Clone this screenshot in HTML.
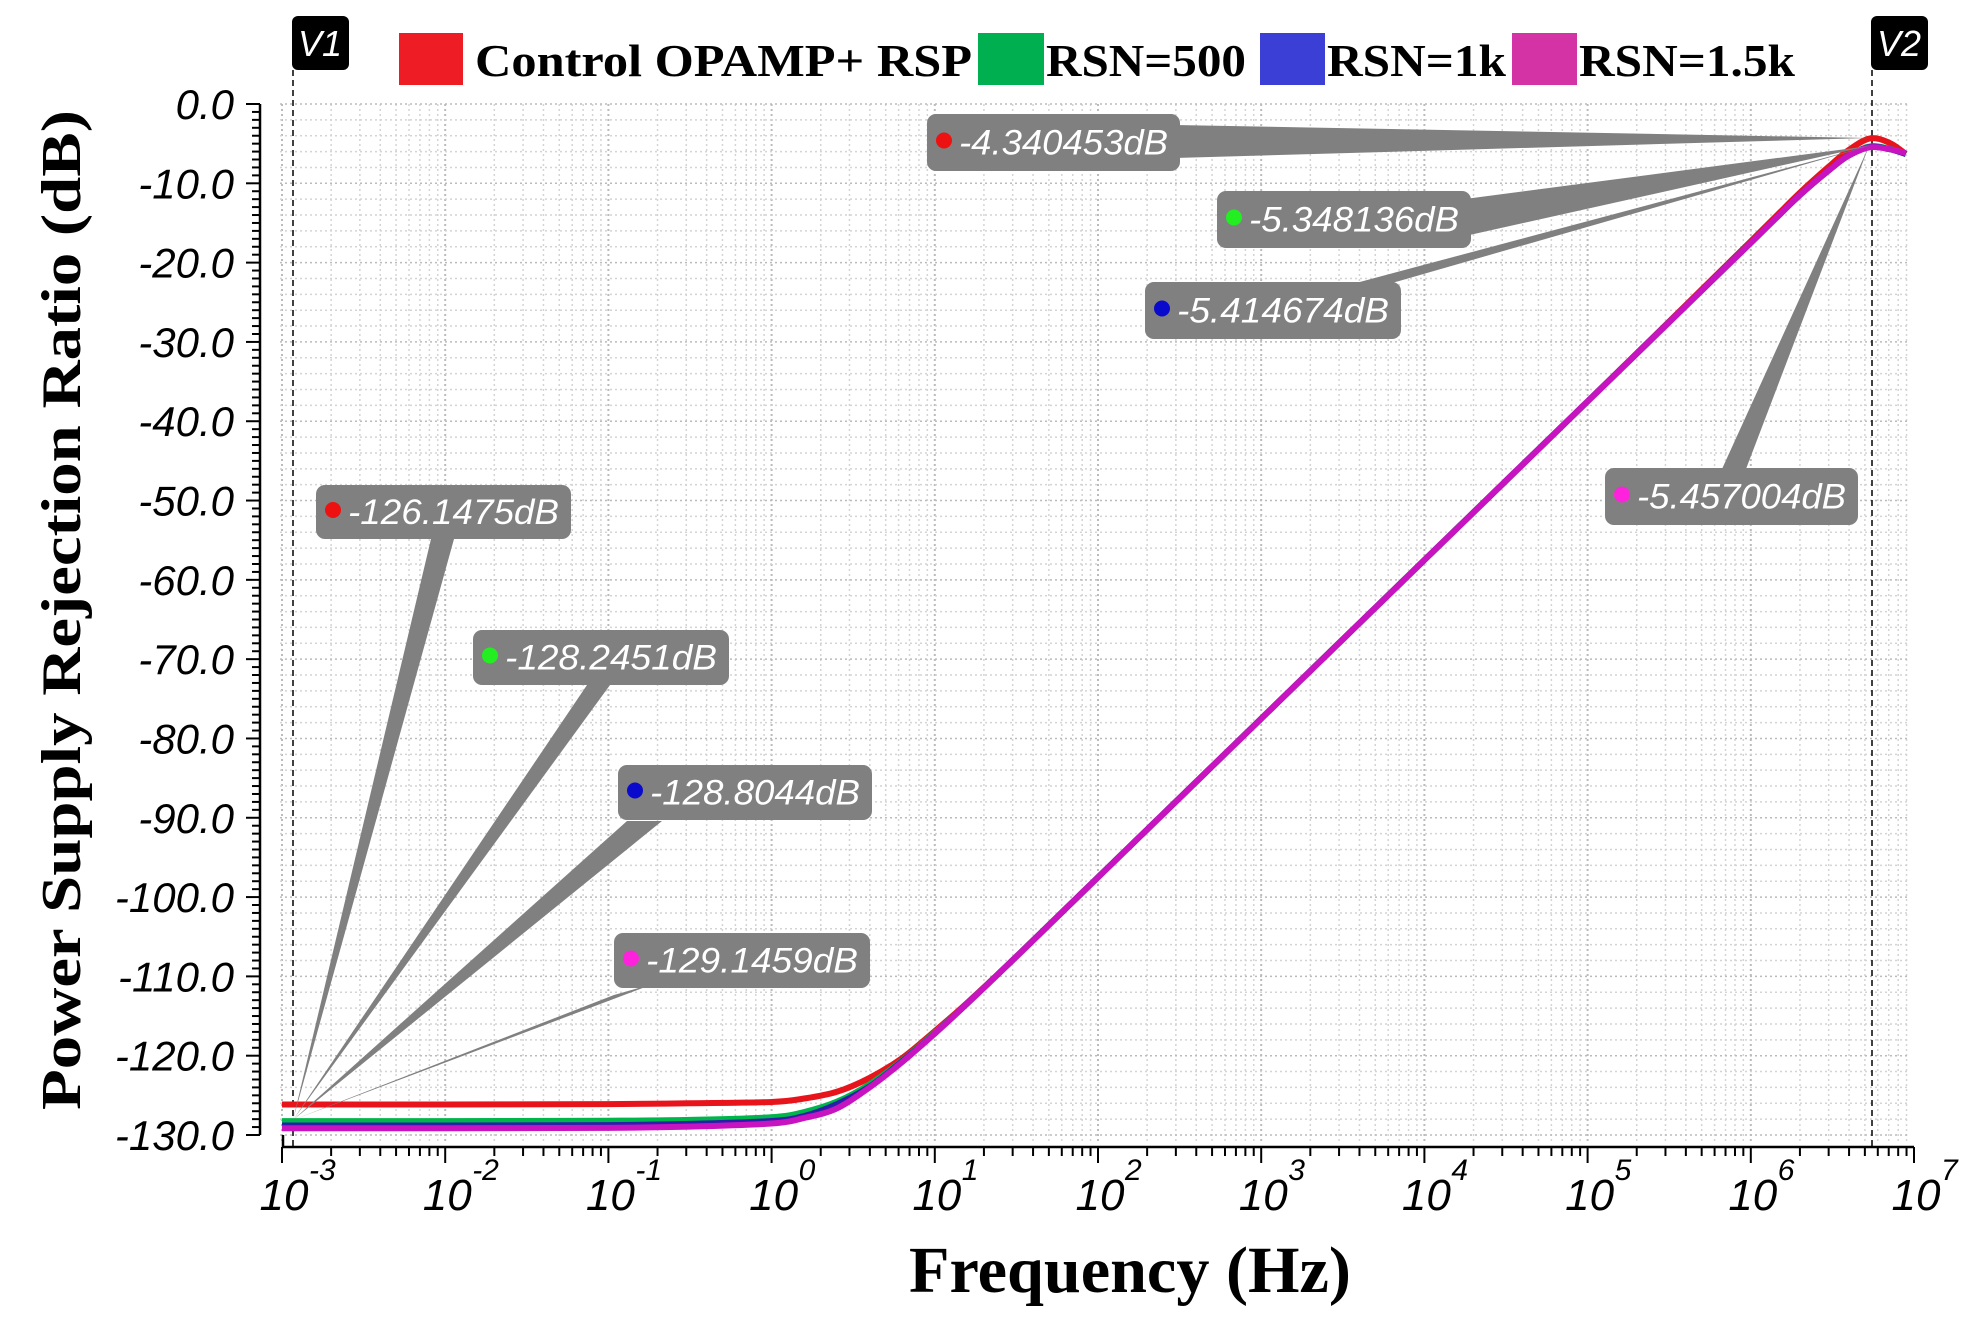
<!DOCTYPE html>
<html><head><meta charset="utf-8"><style>
html,body{margin:0;padding:0;background:#fff;}
svg{display:block;}
</style></head><body>
<svg id="chart" width="1974" height="1331" viewBox="0 0 1974 1331" xmlns="http://www.w3.org/2000/svg">
<g id="grid"></g>
<g id="axes"></g>
<g id="series"></g>
<g id="markers"></g>
<g id="legend"></g>
</svg>
<script>
const logFreq = [-3,-2,-1,-0.5,0,0.2,0.4,0.6,0.8,1,1.2,1.5,2,3,4,5,6,6.3,6.5,6.6,6.73,6.85,6.95];
const redVals = [-126.15,-126.15,-126.1,-126.0,-125.84,-125.4,-124.55,-122.8,-120.3,-116.9,-113.3,-107.5,-97.5,-77.5,-57.5,-37.5,-17.3,-11.2,-7.5,-5.8,-4.34,-4.9,-6.3];
const greenVals = [-128.25,-128.25,-128.2,-128.1,-127.76,-127.1,-125.8,-123.6,-120.6,-117.1,-113.4,-107.5,-97.5,-77.5,-57.5,-37.5,-17.5,-11.5,-8.0,-6.5,-5.35,-5.65,-6.3];
const blueVals = [-128.8,-128.8,-128.75,-128.6,-128.24,-127.6,-126.1,-123.9,-120.7,-117.2,-113.4,-107.5,-97.5,-77.5,-57.5,-37.5,-17.5,-11.5,-8.0,-6.5,-5.41,-5.7,-6.3];
const magentaVals = [-129.15,-129.15,-129.1,-128.95,-128.55,-127.85,-126.65,-124.0,-120.8,-117.2,-113.4,-107.5,-97.5,-77.5,-57.5,-37.5,-17.5,-11.5,-8.0,-6.5,-5.46,-5.7,-6.2];
const seriesNames = ["Control OPAMP+ RSP","RSN=500","RSN=1k","RSN=1.5k"];
const yTickVals = [0,-10,-20,-30,-40,-50,-60,-70,-80,-90,-100,-110,-120,-130];
const xTickExps = [-3,-2,-1,0,1,2,3,4,5,6,7];
const cursorLogs = [-2.93, 6.73];
const cursorLabels = ["V1","V2"];
const annotLeftText = ["-126.1475dB","-128.2451dB","-128.8044dB","-129.1459dB"];
const annotRightText = ["-4.340453dB","-5.348136dB","-5.414674dB","-5.457004dB"];

const NS="http://www.w3.org/2000/svg";
const X0=282, X1=1914, Y0=104, Y130=1135;
function xs(l){return X0+(l+3)*(X1-X0)/10;}
function ys(v){return Y0+(-v)*(Y130-Y0)/130;}
function mk(tag,attrs,parent){const e=document.createElementNS(NS,tag);for(const k in attrs)e.setAttribute(k,attrs[k]);parent.appendChild(e);return e;}
const grid=document.getElementById('grid'),axes=document.getElementById('axes'),series=document.getElementById('series'),markers=document.getElementById('markers'),legend=document.getElementById('legend');

for(let d=-3;d<7;d++){for(let m=1;m<10;m++){const x=xs(d+Math.log10(m));
 const g=mk('line',{x1:x,y1:Y0,x2:x,y2:1142,stroke:m===1?'#bbb':'#d4d4d4','stroke-width':m===1?2:1.5,'stroke-dasharray':'2,3'},grid);
 }}
for(let v=0;v>=-130;v-=2){const y=ys(v);
 const g=mk('line',{x1:280,y1:y,x2:1910,y2:y,stroke:v%10===0?'#bbb':'#d4d4d4','stroke-width':1.5,'stroke-dasharray':'2,3'},grid);
 }

let e=mk('line',{x1:260,y1:Y0,x2:260,y2:Y130,stroke:'#000','stroke-width':2.5},axes);

for(let v=0;v>=-130;v--){const y=ys(v);mk('line',{x1:v%10===0?246:252,y1:y,x2:260,y2:y,stroke:'#000','stroke-width':2},axes);}
yTickVals.forEach(v=>{const t=mk('text',{x:234,y:ys(v)+15,'text-anchor':'end','font-family':'Liberation Sans, sans-serif','font-style':'italic','font-size':42},axes);
 t.textContent=v.toFixed(1);});
e=mk('line',{x1:283,y1:1147,x2:X1,y2:1147,stroke:'#000','stroke-width':2.5},axes);

mk('line',{x1:283,y1:1135,x2:283,y2:1147,stroke:'#000','stroke-width':2.5},axes);
for(let d=-3;d<=7;d++){for(let m=1;m<10;m++){if(d===7&&m>1)break;const x=xs(d+Math.log10(m));mk('line',{x1:x,y1:1147,x2:x,y2:m===1?1163:1156,stroke:'#000','stroke-width':2},axes);}}
xTickExps.forEach(p=>{const x=xs(p);
 const t=mk('text',{x:x+2,y:1210,'text-anchor':'middle','font-family':'Liberation Sans, sans-serif','font-style':'italic','font-size':44},axes);
 t.textContent='10';
 const s=mk('text',{x:x+27,y:1180,'font-family':'Liberation Sans, sans-serif','font-style':'italic','font-size':30},axes);
 s.textContent=String(p);});
e=mk('text',{x:0,y:0,transform:'translate(80,610) rotate(-90)','text-anchor':'middle','font-family':'Liberation Serif, serif','font-weight':'bold','font-size':56,textLength:1000,lengthAdjust:'spacingAndGlyphs'},axes);
e.textContent='Power Supply Rejection Ratio (dB)';
e=mk('text',{x:909,y:1292,'font-family':'Liberation Serif, serif','font-weight':'bold','font-size':66,textLength:442,lengthAdjust:'spacingAndGlyphs'},axes);
e.textContent='Frequency (Hz)';

cursorLogs.forEach((l,i)=>{const x=i===0?293:1872;
 const ln=mk('line',{x1:x,y1:70,x2:x,y2:1147,stroke:'#000','stroke-width':1.5,'stroke-dasharray':'6,4'},axes);
 
 const b=mk('rect',{x:x-1,y:16,width:57,height:54,rx:6,fill:'#000'},axes);
 
 const t=mk('text',{x:x+27,y:56,'text-anchor':'middle','font-family':'Liberation Sans, sans-serif','font-style':'italic','font-size':36,fill:'#fff'},axes);
 t.textContent=cursorLabels[i];});

const allVals=[redVals,greenVals,blueVals,magentaVals];
const lineColors=['#e8141c','#00b54a','#2a1fa8','#c814c0'];
function pathFor(vals){const p=logFreq.map((l,i)=>[xs(l),ys(vals[i])]);let d='M'+p[0][0]+','+p[0][1];
 for(let i=0;i<p.length-1;i++){const a=p[Math.max(0,i-1)],b=p[i],c=p[i+1],n=p[Math.min(p.length-1,i+2)];
  const c1=[b[0]+(c[0]-a[0])/6,b[1]+(c[1]-a[1])/6],c2=[c[0]-(n[0]-b[0])/6,c[1]-(n[1]-b[1])/6];
  d+=' C'+c1[0]+','+c1[1]+' '+c2[0]+','+c2[1]+' '+c[0]+','+c[1];}return d;}
allVals.forEach((v,i)=>{const p=mk('path',{d:pathFor(v),fill:'none',stroke:lineColors[i],'stroke-width':6,'stroke-linejoin':'round'},series);
 });

const dotColors=['#ee1111','#22ee22','#0a0acc','#ff22dd'];
const leftBoxes=[[316,485,571,539],[473,630,729,685],[618,765,872,820],[614,933,870,988]];
const leftBases=[[431,539,454,539],[587,685,610,685],[627,821,662,821],[614,995,656,983]];
const rightBoxes=[[927,114,1180,171],[1217,191,1471,248],[1145,282,1401,339],[1605,468,1858,525]];
const rightBases=[[1175,125,1175,158],[1465,199,1465,236],[1356,283,1392,283],[1722,469,1746,469]];
function annot(box,base,tip,txt,col,name){
 const w=mk('polygon',{points:base[0]+','+base[1]+' '+base[2]+','+base[3]+' '+tip[0]+','+tip[1],fill:'#808080'},markers);
 
 const r=mk('rect',{x:box[0],y:box[1],width:box[2]-box[0],height:box[3]-box[1],rx:9,fill:'#808080'},markers);
 
 const cy=(box[1]+box[3])/2;
 const c=mk('circle',{cx:box[0]+17,cy:cy-2,r:8,fill:col},markers);
 
 const t=mk('text',{x:box[0]+32,y:cy+12,'font-family':'Liberation Sans, sans-serif','font-style':'italic','font-size':35,fill:'#fff',textLength:box[2]-box[0]-44,lengthAdjust:'spacingAndGlyphs'},markers);
 t.textContent=txt;}
annotLeftText.forEach((s,i)=>annot(leftBoxes[i],leftBases[i],[293,1120],s,dotColors[i],'v1-readout-'+i));
annotRightText.forEach((s,i)=>annot(rightBoxes[i],rightBases[i],[1869,i===0?138:146],s,dotColors[i],'v2-readout-'+i));

const legSq=[[399,463],[978,1044],[1260,1325],[1512,1577]];
const legTx=[[475,972],[1046,1246],[1327,1506],[1579,1795]];
const legColors=['#ee1c25','#00b050','#3b3fd6','#d433a6'];
seriesNames.forEach((n,i)=>{
 const r=mk('rect',{x:legSq[i][0],y:33,width:legSq[i][1]-legSq[i][0],height:52,fill:legColors[i]},legend);
 
 const t=mk('text',{x:legTx[i][0],y:76,'font-family':'Liberation Serif, serif','font-weight':'bold','font-size':46,textLength:legTx[i][1]-legTx[i][0],lengthAdjust:'spacingAndGlyphs'},legend);
 t.textContent=n;});
</script>
</body></html>
